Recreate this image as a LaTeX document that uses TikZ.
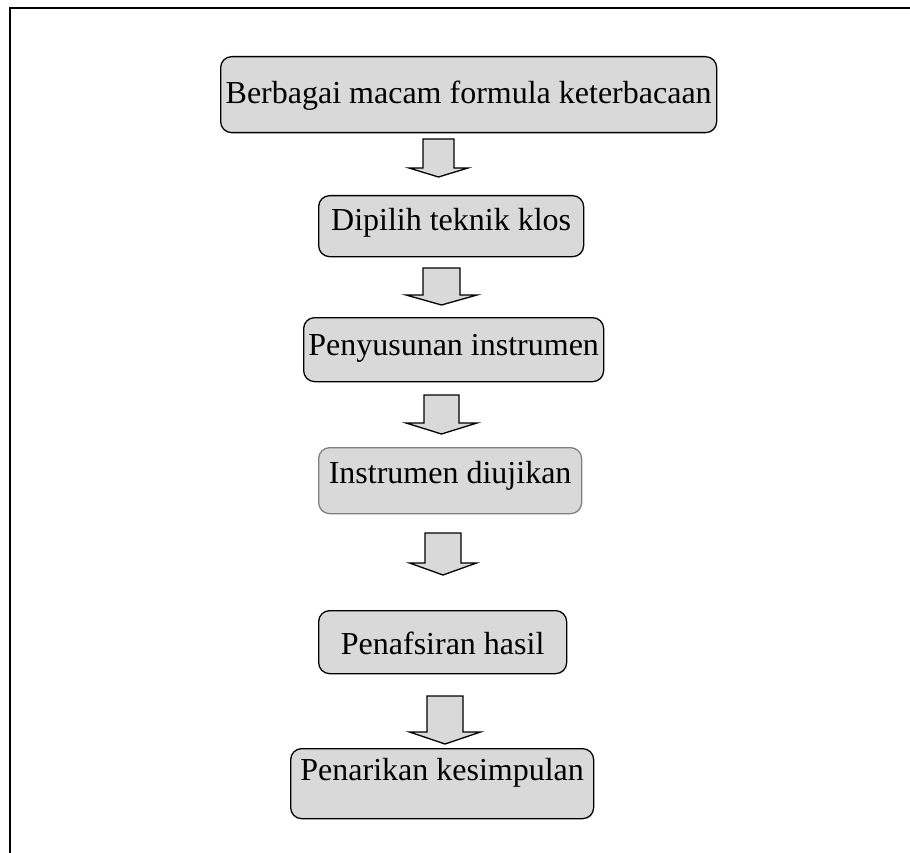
\documentclass[tikz,border=0pt]{standalone}
\usepackage{fontspec}
\setmainfont{Liberation Serif}
\usetikzlibrary{positioning}

\definecolor{boxgray}{RGB}{217,217,217}

% hollow block arrow: origin at the top of its shaft
\newcommand{\fatarrow}[5]{%
    \draw[fat, shift={(#1)}] (-#2,0) -- (#2,0) -- (#2,#3) -- (#4,#3)
        -- (0,#5) -- (-#4,#3) -- (-#2,#3) -- cycle;}

\begin{document}
\begin{tikzpicture}[
    x=1pt, y=-1pt,
    block/.style={
        rectangle,
        draw,
        line width=1.3pt,
        fill=boxgray,
        rounded corners=11pt,
        anchor=north west,
        inner xsep=0pt,
        inner ysep=0pt,
        font=\fontsize{32}{38}\selectfont
    },
    fat/.style={
        draw,
        fill=boxgray,
        line width=1.3pt,
        line join=miter
    }
]
    \useasboundingbox (0,0) rectangle (910,853);

    % Frame
    \draw[line width=1.8pt] (910,8) -- (10,8) -- (10,853);

    % Steps
    \node [block, minimum width=496pt, text height=47pt, text depth=29pt] (formula) at (220,56) {Berbagai macam formula keterbacaan};
    \node [block, minimum width=265pt, text height=35pt, text depth=26pt] (klos) at (318,195) {Dipilih teknik klos};
    \node [block, minimum width=300pt, text height=38pt, text depth=26pt] (susun) at (303,317) {Penyusunan instrumen};
    \node [block, draw=gray, minimum width=263pt, text height=36pt, text depth=30pt] (uji) at (318,447) {Instrumen diujikan};
    \node [block, minimum width=248pt, text height=44pt, text depth=19pt] (tafsir) at (318,610) {Penafsiran hasil};
    \node [block, minimum width=303pt, text height=32pt, text depth=38pt] (simpul) at (290,748) {Penarikan kesimpulan};

    % Arrows
    \coordinate (a1) at (438.5,139);
    \coordinate (a2) at (441.5,268);
    \coordinate (a3) at (441.5,395);
    \coordinate (a4) at (443,533);
    \coordinate (a5) at (445,696);

    \fatarrow{a1}{15.5}{29}{29.5}{38}
    \fatarrow{a2}{18.5}{27}{35.5}{37}
    \fatarrow{a3}{17.5}{28}{35.5}{39}
    \fatarrow{a4}{18}{30}{33.5}{42}
    \fatarrow{a5}{18}{36}{35.5}{48}

\end{tikzpicture}
\end{document}
